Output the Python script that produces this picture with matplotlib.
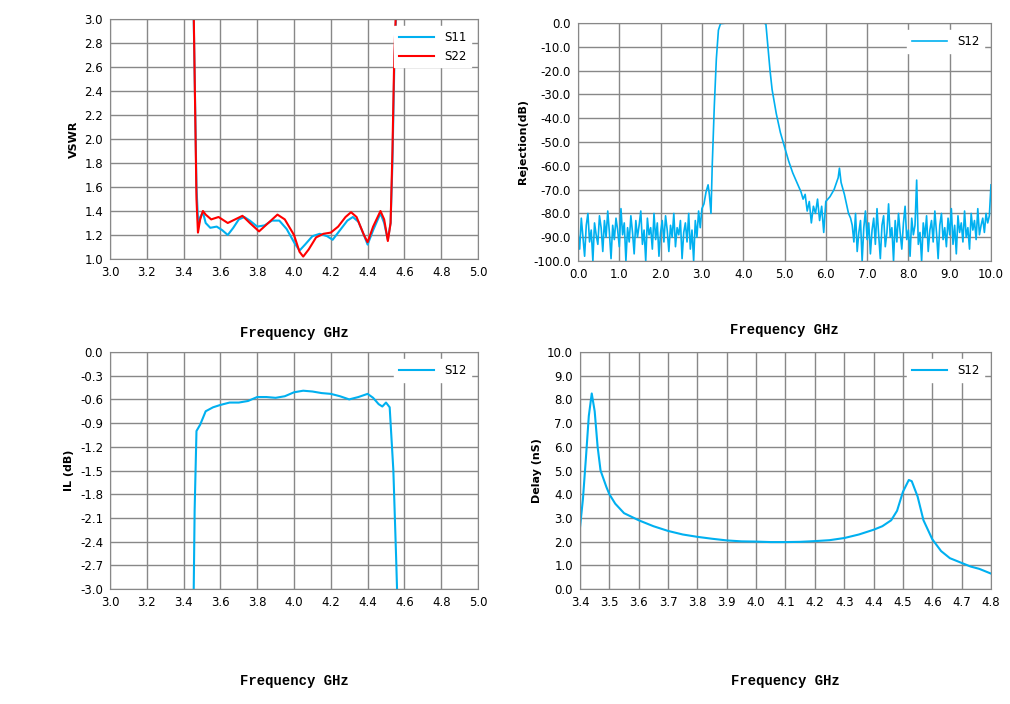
import numpy as np
import matplotlib
matplotlib.use("Agg")
import matplotlib.pyplot as plt

BLUE = "#00B0F0"
RED = "#FF0000"
GRID = "#888888"

# VSWR
f_s11 = [3.455,3.47,3.48,3.49,3.505,3.52,3.545,3.58,3.61,3.64,3.67,3.7,3.73,3.76,3.8,3.84,3.88,3.92,3.96,4.0,4.03,4.06,4.1,4.14,4.18,4.21,4.25,4.29,4.32,4.35,4.38,4.40,4.43,4.47,4.49,4.51,4.525,4.535,4.545,4.555]
s11 = [3.0,1.6,1.27,1.35,1.39,1.3,1.26,1.27,1.24,1.2,1.26,1.33,1.35,1.32,1.27,1.28,1.32,1.32,1.25,1.14,1.07,1.12,1.19,1.21,1.19,1.16,1.24,1.32,1.35,1.31,1.2,1.12,1.24,1.38,1.3,1.16,1.3,1.8,2.6,3.05]
f_s22 = [3.455,3.47,3.478,3.49,3.505,3.52,3.55,3.59,3.64,3.68,3.72,3.76,3.81,3.86,3.91,3.95,4.0,4.03,4.05,4.08,4.12,4.16,4.2,4.24,4.28,4.31,4.34,4.38,4.40,4.43,4.47,4.49,4.51,4.525,4.535,4.545,4.555]
s22 = [3.05,1.5,1.22,1.33,1.4,1.37,1.33,1.35,1.3,1.33,1.36,1.3,1.23,1.3,1.37,1.33,1.2,1.06,1.02,1.08,1.18,1.21,1.22,1.27,1.35,1.39,1.35,1.2,1.14,1.27,1.4,1.33,1.15,1.3,1.9,2.7,3.1]

# Rejection
rej_noise_a = [-88,-95,-82,-90,-98,-85,-80,-92,-87,-100,-84,-89,-93,-81,-86,-96,-83,-90,-79,-88,-99,-85,-91,-82,-87,-94,-78,-89,-84,-100,-86,-92,-81,-88,-97,-83,-90,-85,-79,-93,-87,-100,-82,-89,-86,-95,-80,-91,-84,-98,-88,-83,-92,-81,-87,-96,-85,-90,-80,-94,-86,-89,-83,-99,-88,-84,-92,-80,-95,-87,-100,-83,-90,-79,-86]
f_main = [3.0,3.05,3.1,3.15,3.18,3.22,3.25,3.3,3.35,3.4,3.45,3.6,4.5,4.55,4.6,4.65,4.7,4.8,4.9,5.0,5.1,5.2,5.3,5.4,5.45,5.5,5.55,5.6,5.65,5.7,5.75,5.8,5.85,5.9,5.95,6.0,6.1,6.2,6.3,6.33,6.37,6.45,6.55,6.6]
rej_main = [-78,-76,-71,-68,-72,-80,-60,-35,-15,-3,-0.3,0,0,-0.5,-10,-20,-28,-38,-46,-52,-58,-63,-67,-71,-74,-72,-79,-75,-84,-77,-80,-74,-83,-77,-88,-75,-73,-70,-65,-61,-67,-72,-80,-82]
rej_noise_b = [-85,-92,-80,-96,-88,-83,-100,-86,-79,-91,-84,-97,-87,-82,-93,-78,-89,-99,-85,-81,-94,-88,-76,-90,-86,-100,-83,-92,-80,-88,-95,-84,-77,-91,-87,-98,-82,-89,-85,-66,-93,-88,-100,-84,-90,-81,-96,-87,-83,-92,-79,-88,-99,-85,-80,-91,-86,-94,-82,-89,-78,-93,-85,-97,-81,-88,-84,-92,-79,-90,-86,-95,-80,-87,-83,-91,-78,-89,-85,-82,-88,-80,-84,-81]

# Insertion loss
f_il = [3.455,3.46,3.47,3.49,3.52,3.56,3.6,3.65,3.7,3.75,3.8,3.85,3.9,3.95,4.0,4.05,4.1,4.15,4.2,4.25,4.3,4.35,4.4,4.43,4.46,4.48,4.5,4.52,4.54,4.555,4.56]
il = [-3.0,-2.0,-1.0,-0.92,-0.75,-0.7,-0.67,-0.64,-0.64,-0.62,-0.57,-0.57,-0.58,-0.56,-0.51,-0.49,-0.5,-0.52,-0.53,-0.56,-0.6,-0.57,-0.53,-0.58,-0.66,-0.69,-0.64,-0.7,-1.5,-2.6,-3.0]

# Delay
f_dl = [3.4,3.41,3.42,3.43,3.44,3.45,3.46,3.47,3.49,3.5,3.52,3.55,3.6,3.65,3.7,3.75,3.8,3.85,3.9,3.95,4.0,4.05,4.1,4.15,4.2,4.25,4.3,4.35,4.4,4.43,4.46,4.48,4.5,4.52,4.53,4.55,4.57,4.6,4.63,4.66,4.7,4.73,4.76,4.78,4.8]
delay = [2.6,3.8,5.5,7.3,8.25,7.5,6.0,5.0,4.3,4.0,3.6,3.2,2.9,2.65,2.45,2.3,2.2,2.12,2.05,2.01,2.0,1.98,1.98,1.99,2.02,2.06,2.15,2.3,2.5,2.65,2.9,3.3,4.1,4.6,4.55,3.9,2.9,2.1,1.6,1.3,1.1,0.95,0.85,0.75,0.65]

fig = plt.figure(figsize=(10.1, 7.04), dpi=100)
W, H = 1010, 704
def ax_at(x0, y0, x1, y1):
    return fig.add_axes([x0/W, 1-y1/H, (x1-x0)/W, (y1-y0)/H])

xl_font = dict(family="Liberation Mono", fontweight="bold", fontsize=10)
yl_font = dict(fontweight="bold", fontsize=8)

def fmt(f, v):
    v = round(v, 6)
    if v == 0:
        v = 0.0
    return f % v

def style(ax, xlim, xt, xfmt, ylim, yt, yfmt, ylabel, xlabel_y):
    ax.set_xlim(xlim); ax.set_ylim(ylim)
    ax.set_xticks(xt); ax.set_xticklabels([fmt(xfmt, v) for v in xt], fontsize=8.5)
    ax.set_yticks(yt); ax.set_yticklabels([fmt(yfmt, v) for v in yt], fontsize=8.5)
    ax.grid(True, color=GRID, linewidth=1)
    ax.set_axisbelow(True)
    for s in ax.spines.values():
        s.set_color(GRID)
    ax.tick_params(length=0, pad=5)
    ax.set_ylabel(ylabel, **yl_font)
    ax.xaxis.set_label_coords(0.5, xlabel_y)
    ax.set_xlabel("Frequency GHz", **xl_font)
    leg = ax.legend(loc="upper right", frameon=True, fancybox=False, fontsize=8.5,
                    borderaxespad=0.6, handlelength=3)
    leg.get_frame().set_edgecolor("white")
    leg.get_frame().set_alpha(1)

ax1 = ax_at(110, 19, 478, 259)
ax1.plot(f_s11, s11, color=BLUE, lw=1.5, label="S11")
ax1.plot(f_s22, s22, color=RED, lw=1.5, label="S22")
style(ax1, (3.0, 5.0), np.arange(3.0, 5.01, 0.2), "%.1f", (1.0, 3.0), np.arange(1.0, 3.01, 0.2), "%.1f", "VSWR", -0.28)

ax2 = ax_at(578, 23, 991, 261)
fa = np.linspace(0, 2.96, len(rej_noise_a))
fb = np.linspace(6.64, 9.96, len(rej_noise_b))
fr = np.concatenate([fa, f_main, fb, [10.0]])
rr = np.concatenate([rej_noise_a, rej_main, rej_noise_b, [-68]])
ax2.plot(fr, rr, color=BLUE, lw=1.2, label="S12")
style(ax2, (0, 10), np.arange(0, 10.01, 1.0), "%.1f", (-100, 0), np.arange(-100, 0.1, 10), "%.1f", "Rejection(dB)", -0.26)

ax3 = ax_at(110, 352, 478, 589)
ax3.plot(f_il, il, color=BLUE, lw=1.5, label="S12")
style(ax3, (3.0, 5.0), np.arange(3.0, 5.01, 0.2), "%.1f", (-3.0, 0.0), np.arange(-3.0, 0.01, 0.3), "%.1f", "IL (dB)", -0.36)

ax4 = ax_at(580, 352, 991, 589)
ax4.plot(f_dl, delay, color=BLUE, lw=1.5, label="S12")
style(ax4, (3.4, 4.8), np.arange(3.4, 4.81, 0.1), "%.1f", (0, 10), np.arange(0, 10.01, 1.0), "%.1f", "Delay (nS)", -0.36)

fig.savefig("out.png", dpi=100, facecolor="white")
